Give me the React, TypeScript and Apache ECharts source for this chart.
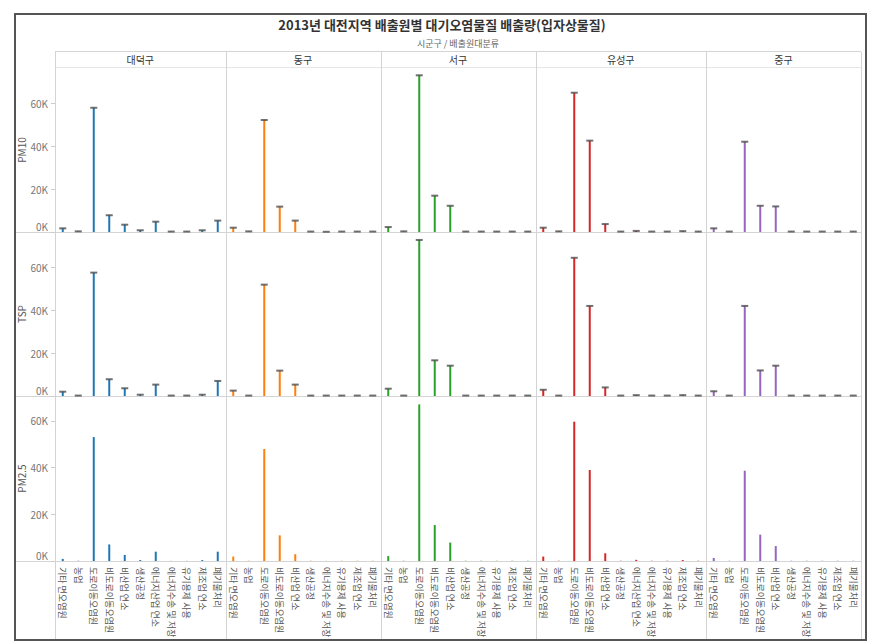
import React, { useEffect, useRef } from "react";
import * as echarts from "echarts";

const districts = ["대덕구", "동구", "서구", "유성구", "중구"];
const catsFull = [
  "기타 면오염원",
  "농업",
  "도로이동오염원",
  "비도로이동오염원",
  "비산업 연소",
  "생산공정",
  "에너지산업 연소",
  "에너지수송 및 저장",
  "유기용제 사용",
  "제조업 연소",
  "폐기물처리",
];
const catsShort = [
  "기타 면오염원",
  "농업",
  "도로이동오염원",
  "비도로이동오염원",
  "비산업 연소",
  "생산공정",
  "에너지수송 및 저장",
  "유기용제 사용",
  "제조업 연소",
  "폐기물처리",
];
const districtCats = [catsFull, catsShort, catsShort, catsFull, catsShort];

const pollutants = ["PM10", "TSP", "PM2.5"];
const yTicks = [0, 20000, 40000, 60000];

// PM10
const pm10Daedeok = [1700, 300, 57800, 7800, 3400, 800, 4800, 200, 200, 800, 5300];
const pm10Donggu = [2000, 300, 52100, 11800, 5300, 200, 100, 200, 200, 200];
const pm10Seogu = [2300, 300, 72900, 16900, 12200, 200, 200, 200, 200, 200];
const pm10Yuseong = [2000, 300, 64800, 42500, 3700, 200, 500, 200, 200, 400, 200];
const pm10Junggu = [1700, 200, 42000, 12200, 11900, 200, 200, 200, 200, 200];
// TSP
const tspDaedeok = [2000, 200, 57400, 7800, 3600, 600, 5300, 200, 200, 600, 7000];
const tspDonggu = [2500, 200, 51800, 11800, 5300, 200, 200, 200, 200, 200];
const tspSeogu = [3400, 200, 72600, 16600, 14100, 200, 200, 200, 200, 200];
const tspYuseong = [2900, 200, 64300, 41900, 4000, 200, 400, 200, 200, 400, 200];
const tspJunggu = [2200, 200, 41900, 11900, 14100, 200, 200, 200, 200, 200];
// PM2.5
const pm25Daedeok = [900, 100, 53100, 7100, 2600, 400, 4000, 50, 50, 400, 4000];
const pm25Donggu = [1900, 100, 48000, 11000, 2900, 100, 50, 100, 100, 100];
const pm25Seogu = [2100, 100, 67100, 15400, 7900, 100, 100, 100, 100, 100];
const pm25Yuseong = [1900, 100, 59700, 39000, 3300, 100, 500, 100, 100, 400, 100];
const pm25Junggu = [1300, 100, 38700, 11300, 6400, 100, 100, 100, 100, 100];

const values = [
  [pm10Daedeok, pm10Donggu, pm10Seogu, pm10Yuseong, pm10Junggu],
  [tspDaedeok, tspDonggu, tspSeogu, tspYuseong, tspJunggu],
  [pm25Daedeok, pm25Donggu, pm25Seogu, pm25Yuseong, pm25Junggu],
];

const colors = ["#1f77b4", "#ff7f0e", "#2ca02c", "#d62728", "#9467bd"];

const FONT = '"Noto Sans CJK KR", "Noto Sans", sans-serif';

export default function App() {
  const ref = useRef<HTMLDivElement>(null);

  useEffect(() => {
    if (!ref.current) return;
    const chart = echarts.init(ref.current, null, { renderer: "svg" });

    const x0 = 55;
    const slot = 15.5;
    const colLeft: number[] = [];
    let acc = x0;
    districtCats.forEach((c) => {
      colLeft.push(acc);
      acc += c.length * slot;
    });
    const xEnd = acc;
    const rows = [
      { top: 68, zero: 232, max: 76300 },
      { top: 232, zero: 396, max: 76300 },
      { top: 396, zero: 561, max: 70700 },
    ];

    const grids: any[] = [];
    const xAxes: any[] = [];
    const yAxes: any[] = [];
    const series: any[] = [];

    rows.forEach((row, r) => {
      districtCats.forEach((cats, c) => {
        const gi = r * 5 + c;
        grids.push({
          left: colLeft[c],
          top: row.top,
          width: cats.length * slot,
          height: row.zero - row.top,
        });
        xAxes.push({
          type: "category",
          gridIndex: gi,
          data: cats,
          axisLine: { show: true, lineStyle: { color: "#d4d4d4", width: 1 } },
          axisTick: { show: false },
          axisLabel: {
            show: r === 2,
            rotate: -90,
            interval: 0,
            fontSize: 9,
            color: "#555",
            margin: 6,
            fontFamily: FONT,
          },
          splitLine: { show: false },
        });
        yAxes.push({
          type: "value",
          gridIndex: gi,
          min: 0,
          max: row.max,
          name: c === 0 ? pollutants[r] : "",
          nameLocation: "middle",
          nameGap: 28,
          nameTextStyle: { fontSize: 10, color: "#555", fontFamily: FONT },
          axisLine: { show: false },
          axisTick: {
            show: c === 0,
            length: 4,
            lineStyle: { color: "#ccc" },
            customValues: yTicks,
          },
          axisLabel: {
            show: c === 0,
            customValues: yTicks,
            fontSize: 10,
            color: "#777",
            margin: 7,
            fontFamily: FONT,
            formatter: (v: number) =>
              v === 0 ? "{z|0K}" : Math.round(v / 1000) + "K",
            rich: { z: { fontSize: 10, color: "#777", padding: [0, 0, 12, 0], fontFamily: FONT } },
          },
          splitLine: { show: false },
        });
        series.push({
          type: "bar",
          xAxisIndex: gi,
          yAxisIndex: gi,
          data: values[r][c],
          barWidth: 2,
          itemStyle: { color: colors[c] },
          silent: true,
        });
        if (r < 2) {
          series.push({
            type: "scatter",
            xAxisIndex: gi,
            yAxisIndex: gi,
            data: values[r][c],
            symbol: "rect",
            symbolSize: [7, 2],
            itemStyle: { color: "#4d4d4d" },
            z: 5,
            silent: true,
          });
        }
      });
    });

    const lineStyle = { stroke: "#d4d4d4", lineWidth: 1 };
    const graphic: any[] = [
      {
        type: "text",
        x: 442,
        y: 24,
        style: {
          text: "2013년 대전지역 배출원별 대기오염물질 배출량(입자상물질)",
          font: `bold 13px ${FONT}`,
          fill: "#333",
          textAlign: "center",
          textVerticalAlign: "middle",
        },
      },
      {
        type: "text",
        x: (x0 + xEnd) / 2,
        y: 43,
        style: {
          text: "시군구 / 배출원대분류",
          font: `9px ${FONT}`,
          fill: "#666",
          textAlign: "center",
          textVerticalAlign: "middle",
        },
      },
      { type: "line", shape: { x1: x0, y1: 51.5, x2: xEnd, y2: 51.5 }, style: lineStyle },
      { type: "line", shape: { x1: x0, y1: 67.5, x2: xEnd, y2: 67.5 }, style: { stroke: "#e6e6e6", lineWidth: 1 } },
      { type: "line", shape: { x1: 15, y1: 232.5, x2: x0, y2: 232.5 }, style: lineStyle },
      { type: "line", shape: { x1: 15, y1: 396.5, x2: x0, y2: 396.5 }, style: lineStyle },
      { type: "line", shape: { x1: 15, y1: 561.5, x2: x0, y2: 561.5 }, style: lineStyle },
    ];
    districts.forEach((d, c) => {
      const w = districtCats[c].length * slot;
      graphic.push({
        type: "text",
        x: colLeft[c] + w / 2,
        y: 59.5,
        style: {
          text: d,
          font: `10px ${FONT}`,
          fill: "#333",
          textAlign: "center",
          textVerticalAlign: "middle",
        },
      });
    });
    [...colLeft, xEnd].forEach((x) => {
      const xx = Math.round(x) + 0.5;
      graphic.push({
        type: "line",
        shape: { x1: xx, y1: 52, x2: xx, y2: 640 },
        style: lineStyle,
      });
    });
    graphic.push({
      type: "rect",
      shape: { x: 15, y: 14, width: 851, height: 626 },
      style: { fill: "none", stroke: "#555", lineWidth: 2 },
      z: 100,
    });

    chart.setOption({
      animation: false,
      backgroundColor: "#fff",
      textStyle: { fontFamily: FONT },
      grid: grids,
      xAxis: xAxes,
      yAxis: yAxes,
      series,
      graphic,
    });

    return () => chart.dispose();
  }, []);

  return (
    <div
      ref={ref}
      style={{ width: 884, height: 644, position: "absolute", left: 0, top: 0 }}
    />
  );
}
